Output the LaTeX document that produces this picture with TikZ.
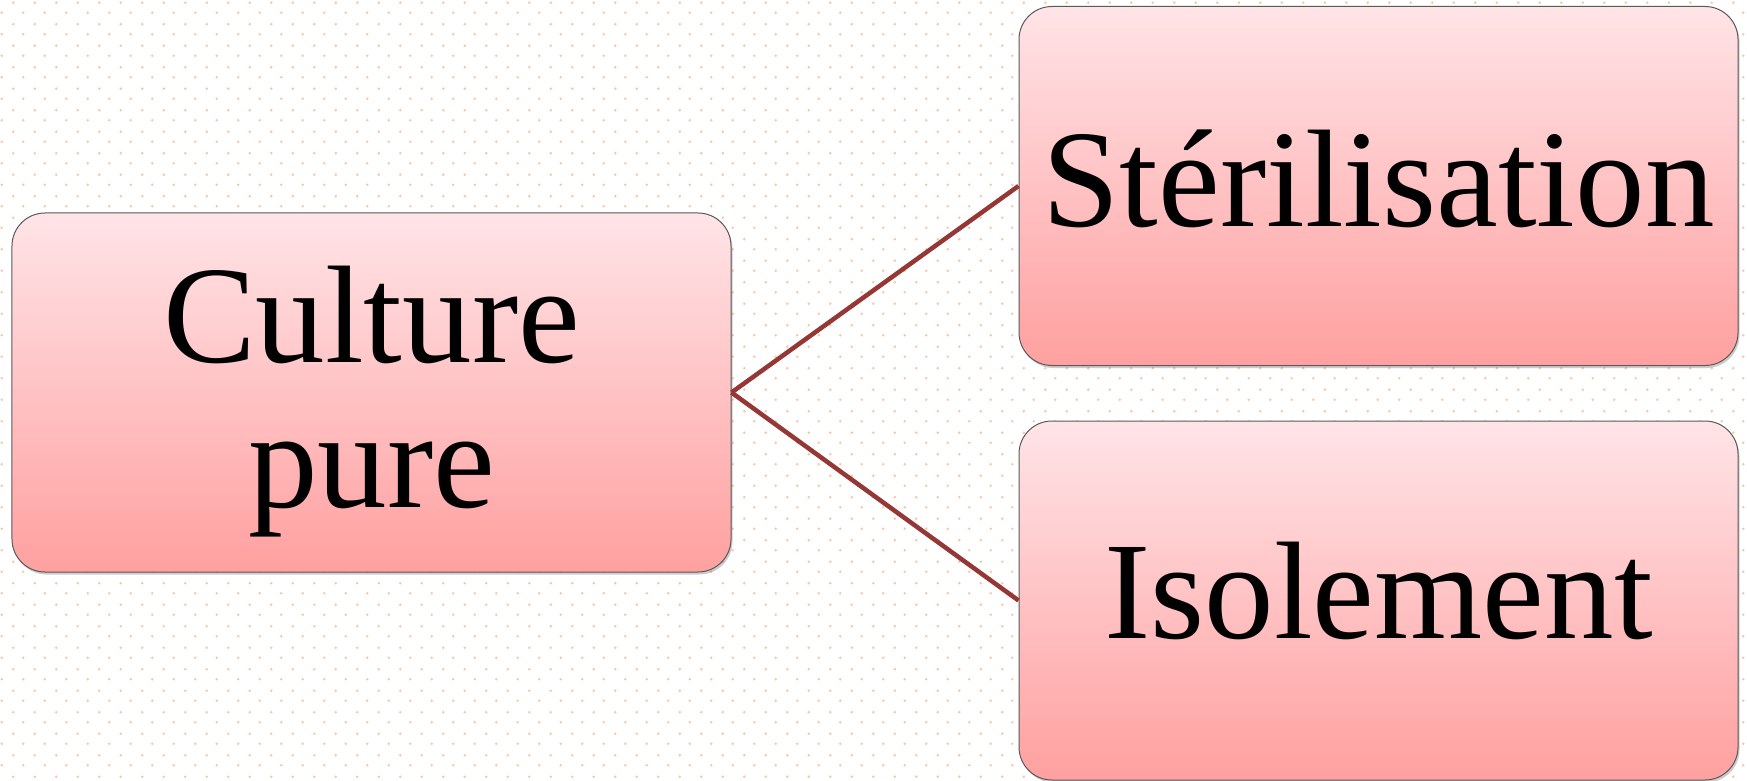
\documentclass[tikz,border=0pt]{standalone}
\usepackage{fontspec}
\setmainfont{Liberation Serif}
\usetikzlibrary{shadows}
\definecolor{dotc}{RGB}{250,200,160}
\definecolor{boxtop}{RGB}{255,228,231}
\definecolor{boxbot}{RGB}{255,160,160}
\definecolor{linec}{RGB}{149,55,53}
\definecolor{edgec}{RGB}{90,90,90}
\tikzset{
  box/.style={rectangle, rounded corners=33bp, draw=edgec, line width=1bp,
    top color=boxtop, bottom color=boxbot, inner sep=0pt,
    minimum width=719bp, minimum height=359bp,
    drop shadow={opacity=0.4, shadow xshift=1.5bp, shadow yshift=-2.5bp}},
  lbl/.style={inner sep=0pt, anchor=base, font=\fontsize{139bp}{145bp}\selectfont},
  conn/.style={draw=linec, line width=4.5bp},
}
\begin{document}
\begin{tikzpicture}[x=1bp, y=-1bp]
\useasboundingbox (0,0) rectangle (1747,781);
\fill[white] (0,0) rectangle (1747,781);
\foreach \j in {0,...,36} {
  \foreach \i in {0,...,81} {
    \fill[dotc] (13.3+21.5*\i, 2.7+21.5*\j) circle (1.4bp);
    \fill[dotc] (1.7+21.5*\i, 12.7+21.5*\j) circle (1.4bp);
  }
}
\node[box] (lbox) at (371.5,392.5) {};
\node[box] (tbox) at (1378.5,186) {};
\node[box] (bbox) at (1378.5,600.5) {};
\draw[conn] (lbox.east) -- (tbox.west);
\draw[conn] (lbox.east) -- (bbox.west);
\node[lbl] (t1) at (371.5,362) {Culture};
\node[lbl] (t2) at (371.5,507) {pure};
\node[lbl] (t3) at (1378.5,226) {Stérilisation};
\node[lbl] (t4) at (1378.5,638) {Isolement};
\end{tikzpicture}
\end{document}
